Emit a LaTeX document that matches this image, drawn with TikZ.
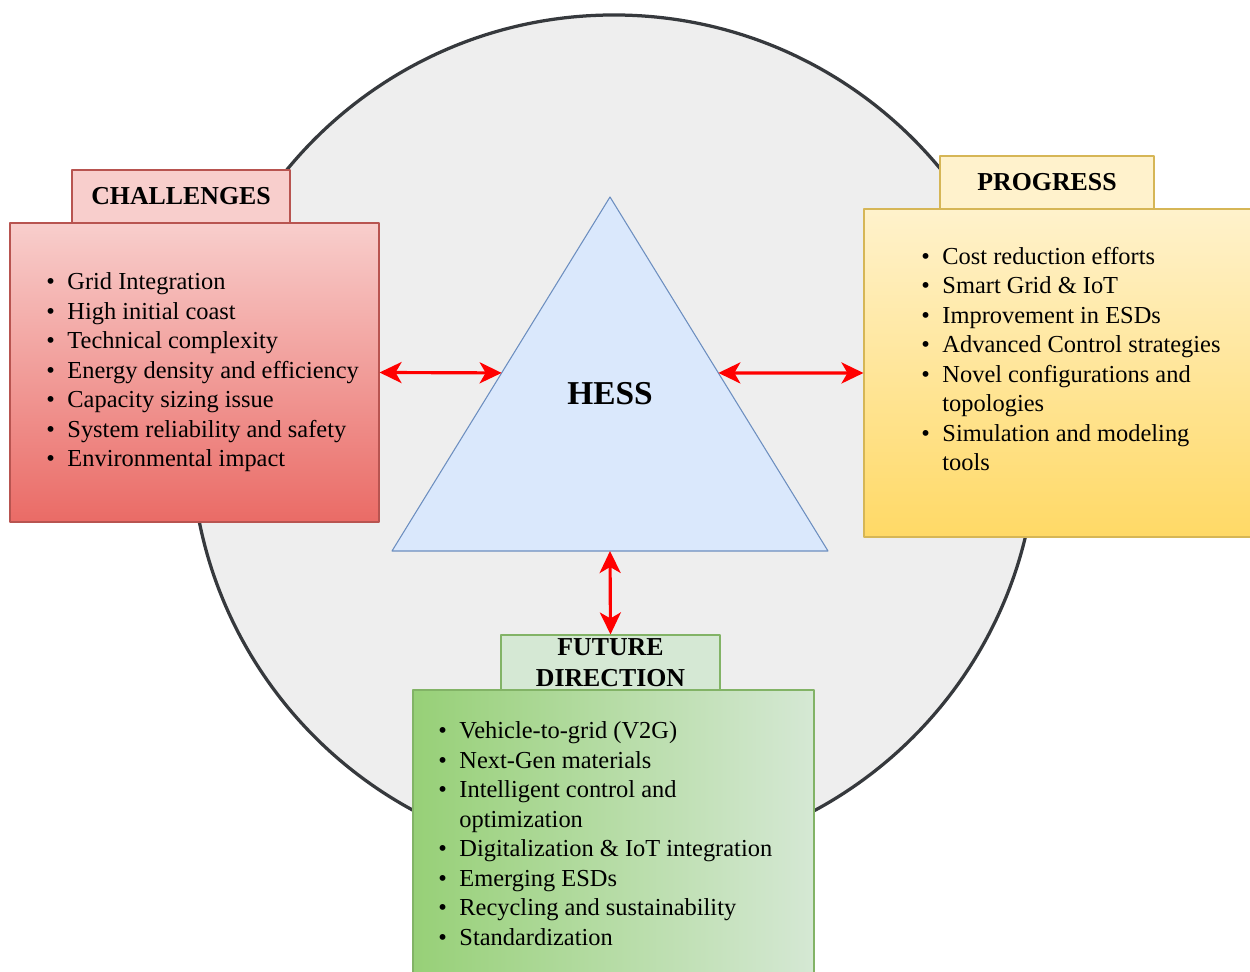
\documentclass[tikz,border=0pt]{standalone}
\usepackage{fontspec}
\setmainfont{Liberation Serif}
\usepackage{tikz}
\usepackage{xcolor}
\usetikzlibrary{arrows.meta}

\definecolor{ringfill}{HTML}{EEEEEE}
\definecolor{ringline}{HTML}{36393D}
\definecolor{trifill}{HTML}{DAE8FC}
\definecolor{triline}{HTML}{6C8EBF}
\definecolor{redlight}{HTML}{F8CECC}
\definecolor{reddark}{HTML}{EA6B66}
\definecolor{redline}{HTML}{B85450}
\definecolor{yellight}{HTML}{FFF2CC}
\definecolor{yeldark}{HTML}{FFD966}
\definecolor{yelline}{HTML}{D6B656}
\definecolor{grnlight}{HTML}{D5E8D4}
\definecolor{grndark}{HTML}{97D077}
\definecolor{grnline}{HTML}{82B366}

\newcommand{\itm}{\makebox[12pt][l]{\textbullet}}
\newcommand{\itmgap}{\hspace*{12pt}}

\begin{document}
\begin{tikzpicture}[x=1cm,y=1cm,line cap=round,line join=round]
    % styles
    \tikzstyle{ring}=[fill=ringfill,draw=ringline,line width=0.065cm]
    \tikzstyle{tri}=[fill=trifill,draw=triline,line width=0.6pt]
    \tikzstyle{head}=[rectangle,inner sep=0pt,line width=0.6pt,align=center,
                      font=\fontsize{14.7}{17.6}\selectfont\bfseries]
    \tikzstyle{body}=[rectangle,inner sep=0pt,line width=0.6pt]
    \tikzstyle{list}=[anchor=north west,inner sep=0pt,
                      font=\fontsize{13.9}{16.8}\selectfont]
    \tikzstyle{link}=[{Stealth[length=0.44cm,width=0.42cm,inset=0.12cm]}-{Stealth[length=0.44cm,width=0.42cm,inset=0.12cm]},
                      red,line width=1.8pt]

    \useasboundingbox (0,0) rectangle (25,19.44);

    % ----------------------------------------------------
    % background circle and HESS triangle
    % ----------------------------------------------------
    \draw[ring] (12.28,10.68) circle (8.46);

    \coordinate (apex) at (12.2,15.5);
    \coordinate (bl) at (7.84,8.42);
    \coordinate (br) at (16.56,8.42);
    \path[tri] (apex) -- (bl) -- (br) -- cycle;
    \path (bl) -- (apex) coordinate[pos=0.503] (triL);
    \path (br) -- (apex) coordinate[pos=0.503] (triR);
    \path (bl) -- (br) coordinate[pos=0.5] (triB);
    \node[font=\fontsize{19}{22}\selectfont\bfseries] (hess) at (12.2,11.56) {HESS};

    % ----------------------------------------------------
    % CHALLENGES (left)
    % ----------------------------------------------------
    \node[head,fill=redlight,draw=redline,minimum width=4.36cm,minimum height=1.06cm]
        (chalhead) at (3.62,15.51) {CHALLENGES};
    \node[body,top color=redlight,bottom color=reddark,draw=redline,
          minimum width=7.38cm,minimum height=5.98cm] (chalbody) at (3.89,11.99) {};
    \node[list] (challist) at (0.92,14.07) {\begin{tabular}{@{}l@{}}
        \itm Grid Integration\\
        \itm High initial coast\\
        \itm Technical complexity\\
        \itm Energy density and efficiency\\
        \itm Capacity sizing issue\\
        \itm System reliability and safety\\
        \itm Environmental impact
      \end{tabular}};

    % ----------------------------------------------------
    % PROGRESS (right)
    % ----------------------------------------------------
    \node[head,fill=yellight,draw=yelline,minimum width=4.28cm,minimum height=1.06cm]
        (proghead) at (20.94,15.79) {PROGRESS};
    \node[body,top color=yellight,bottom color=yeldark,draw=yelline,
          minimum width=7.92cm,minimum height=6.56cm] (progbody) at (21.24,11.98) {};
    \node[list] (proglist) at (18.42,14.574) {\begin{tabular}{@{}l@{}}
        \itm Cost reduction efforts\\
        \itm Smart Grid \& IoT\\
        \itm Improvement in ESDs\\
        \itm Advanced Control strategies\\
        \itm Novel configurations and\\
        \itmgap topologies\\
        \itm Simulation and modeling\\
        \itmgap tools
      \end{tabular}};

    % ----------------------------------------------------
    % FUTURE DIRECTION (bottom)
    % ----------------------------------------------------
    \node[head,fill=grnlight,draw=grnline,minimum width=4.38cm,minimum height=1.10cm]
        (futhead) at (12.21,6.19) {FUTURE\\DIRECTION};
    \node[body,left color=grndark,right color=grnlight,draw=grnline,
          minimum width=8.02cm,minimum height=5.94cm] (futbody) at (12.27,2.67) {};
    \node[list] (futlist) at (8.76,5.084) {\begin{tabular}{@{}l@{}}
        \itm Vehicle-to-grid (V2G)\\
        \itm Next-Gen materials\\
        \itm Intelligent control and\\
        \itmgap optimization\\
        \itm Digitalization \& IoT integration\\
        \itm Emerging ESDs\\
        \itm Recycling and sustainability\\
        \itm Standardization
      \end{tabular}};

    % ----------------------------------------------------
    % links to HESS
    % ----------------------------------------------------
    \draw[link] (chalbody.east) -- (triL);
    \draw[link] (triR) -- (progbody.west);
    \draw[link] (triB) -- (futhead.north);
\end{tikzpicture}
\end{document}
